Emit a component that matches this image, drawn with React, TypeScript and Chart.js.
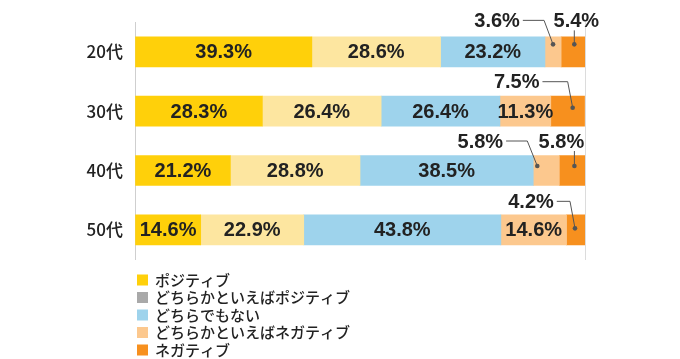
import React, { useEffect, useRef } from "react";
import { Chart, registerables } from "chart.js";

Chart.register(...registerables);

const categories = ["20代", "30代", "40代", "50代"];
const seriesNames = [
  "ポジティブ",
  "どちらかといえばポジティブ",
  "どちらでもない",
  "どちらかといえばネガティブ",
  "ネガティブ",
];
const positive = [39.3, 28.3, 21.2, 14.6];
const somewhatPositive = [28.6, 26.4, 28.8, 22.9];
const neutral = [23.2, 26.4, 38.5, 43.8];
const somewhatNegative = [3.6, 11.3, 5.8, 14.6];
const negative = [5.4, 7.5, 5.8, 4.2];

const barColors = ["#FFD00A", "#FDE6A0", "#9ED3EC", "#FCC88E", "#F7901E"];
const legendColors = ["#FFD00A", "#A9A9A9", "#9ED3EC", "#FCC88E", "#F7901E"];

// callout layout for small segments (row, series, offsets relative to segment centre)
const callouts = [
  { row: 0, series: 3, kind: "elbow", tdx: -56, tdy: -31.5, ddx: 0, ddy: -7.5, elbow: -9 },
  { row: 0, series: 4, kind: "vertical", tdx: 3, tdy: -31.5, ddx: 1, ddy: -7.5, elbow: 0 },
  { row: 1, series: 4, kind: "elbow", tdx: -51, tdy: -29.5, ddx: 5, ddy: -3.5, elbow: -5 },
  { row: 2, series: 3, kind: "elbow", tdx: -66, tdy: -29.5, ddx: -9, ddy: -4.5, elbow: -10 },
  { row: 2, series: 4, kind: "vertical", tdx: -11, tdy: -29.5, ddx: 2, ddy: -4.5, elbow: 0 },
  { row: 3, series: 4, kind: "elbow", tdx: -45, tdy: -28.5, ddx: -1, ddy: -1.5, elbow: -5 },
];

const LABEL_FONT = "bold 20px 'Liberation Sans', Arial, sans-serif";
const JP_FONT = "'Noto Sans CJK JP', sans-serif";

const labelPlugin = {
  id: "valueLabels",
  afterDatasetsDraw(chart: any) {
    const ctx = chart.ctx;
    ctx.save();
    ctx.font = LABEL_FONT;
    ctx.fillStyle = "#222";
    ctx.textAlign = "center";
    ctx.textBaseline = "middle";
    chart.data.datasets.forEach((ds: any, di: number) => {
      const meta = chart.getDatasetMeta(di);
      meta.data.forEach((el: any, j: number) => {
        const p = el.getProps(["x", "y", "base", "height"], true);
        const value = ds.data[j];
        const text = value.toFixed(1) + "%";
        const cx = (p.x + p.base) / 2;
        const cy = p.y;
        const co = callouts.find((c) => c.row === j && c.series === di);
        if (!co) {
          ctx.fillStyle = "#222";
          ctx.fillText(text, cx, cy + 1);
          return;
        }
        const tx = cx + co.tdx;
        const ty = cy + co.tdy;
        const dx = cx + co.ddx;
        const dy = cy + co.ddy;
        ctx.fillStyle = "#222";
        ctx.fillText(text, tx, ty + 1);
        ctx.strokeStyle = "#555";
        ctx.lineWidth = 1;
        ctx.beginPath();
        if (co.kind === "elbow") {
          const w = ctx.measureText(text).width;
          ctx.moveTo(tx + w / 2 + 3, ty);
          ctx.lineTo(dx + co.elbow, ty);
          ctx.lineTo(dx, dy);
        } else {
          ctx.moveTo(dx, ty + 10);
          ctx.lineTo(dx, dy);
        }
        ctx.stroke();
        ctx.fillStyle = "#555";
        ctx.beginPath();
        ctx.arc(dx, dy, 2.3, 0, Math.PI * 2);
        ctx.fill();
      });
    });
    ctx.restore();
  },
};

const legendPlugin = {
  id: "listLegend",
  afterDraw(chart: any) {
    const ctx = chart.ctx;
    ctx.save();
    ctx.font = "500 15px " + JP_FONT;
    ctx.textBaseline = "middle";
    ctx.textAlign = "left";
    seriesNames.forEach((name, i) => {
      const yc = 280 + i * 17.5;
      ctx.fillStyle = legendColors[i];
      ctx.fillRect(137, yc - 5.5, 11, 11);
      ctx.fillStyle = "#222";
      ctx.fillText(name, 155, yc);
    });
    ctx.restore();
  },
};

export default function App() {
  const ref = useRef<HTMLCanvasElement | null>(null);
  useEffect(() => {
    if (!ref.current) return;
    const series = [positive, somewhatPositive, neutral, somewhatNegative, negative];
    const chart = new Chart(ref.current, {
      type: "bar",
      data: {
        labels: categories,
        datasets: series.map((d, i) => ({
          label: seriesNames[i],
          data: d,
          backgroundColor: barColors[i],
          borderWidth: 0,
          barThickness: 30,
        })),
      },
      options: {
        indexAxis: "y",
        animation: false,
        responsive: true,
        maintainAspectRatio: false,
        layout: { padding: { top: 15.5, bottom: 99.5, right: 95, left: 0 } },
        plugins: {
          legend: { display: false },
          tooltip: { enabled: false },
        },
        scales: {
          x: {
            type: "linear",
            stacked: true,
            min: 0,
            max: 100,
            ticks: { display: false, stepSize: 100 },
            grid: { color: "#dcdcdc", drawTicks: false },
            border: { display: false },
          },
          y: {
            stacked: true,
            grid: { display: false, drawTicks: false },
            border: { color: "#cfcfcf" },
            ticks: {
              padding: 12,
              color: "#222",
              font: { family: JP_FONT, size: 17, weight: "500" },
            },
            afterFit: (scale: any) => {
              scale.width = 135;
            },
          },
        },
      } as any,
      plugins: [labelPlugin, legendPlugin],
    });
    return () => chart.destroy();
  }, []);
  return (
    <div style={{ position: "absolute", left: 0, top: 0, width: 680, height: 359 }}>
      <canvas ref={ref} />
    </div>
  );
}
